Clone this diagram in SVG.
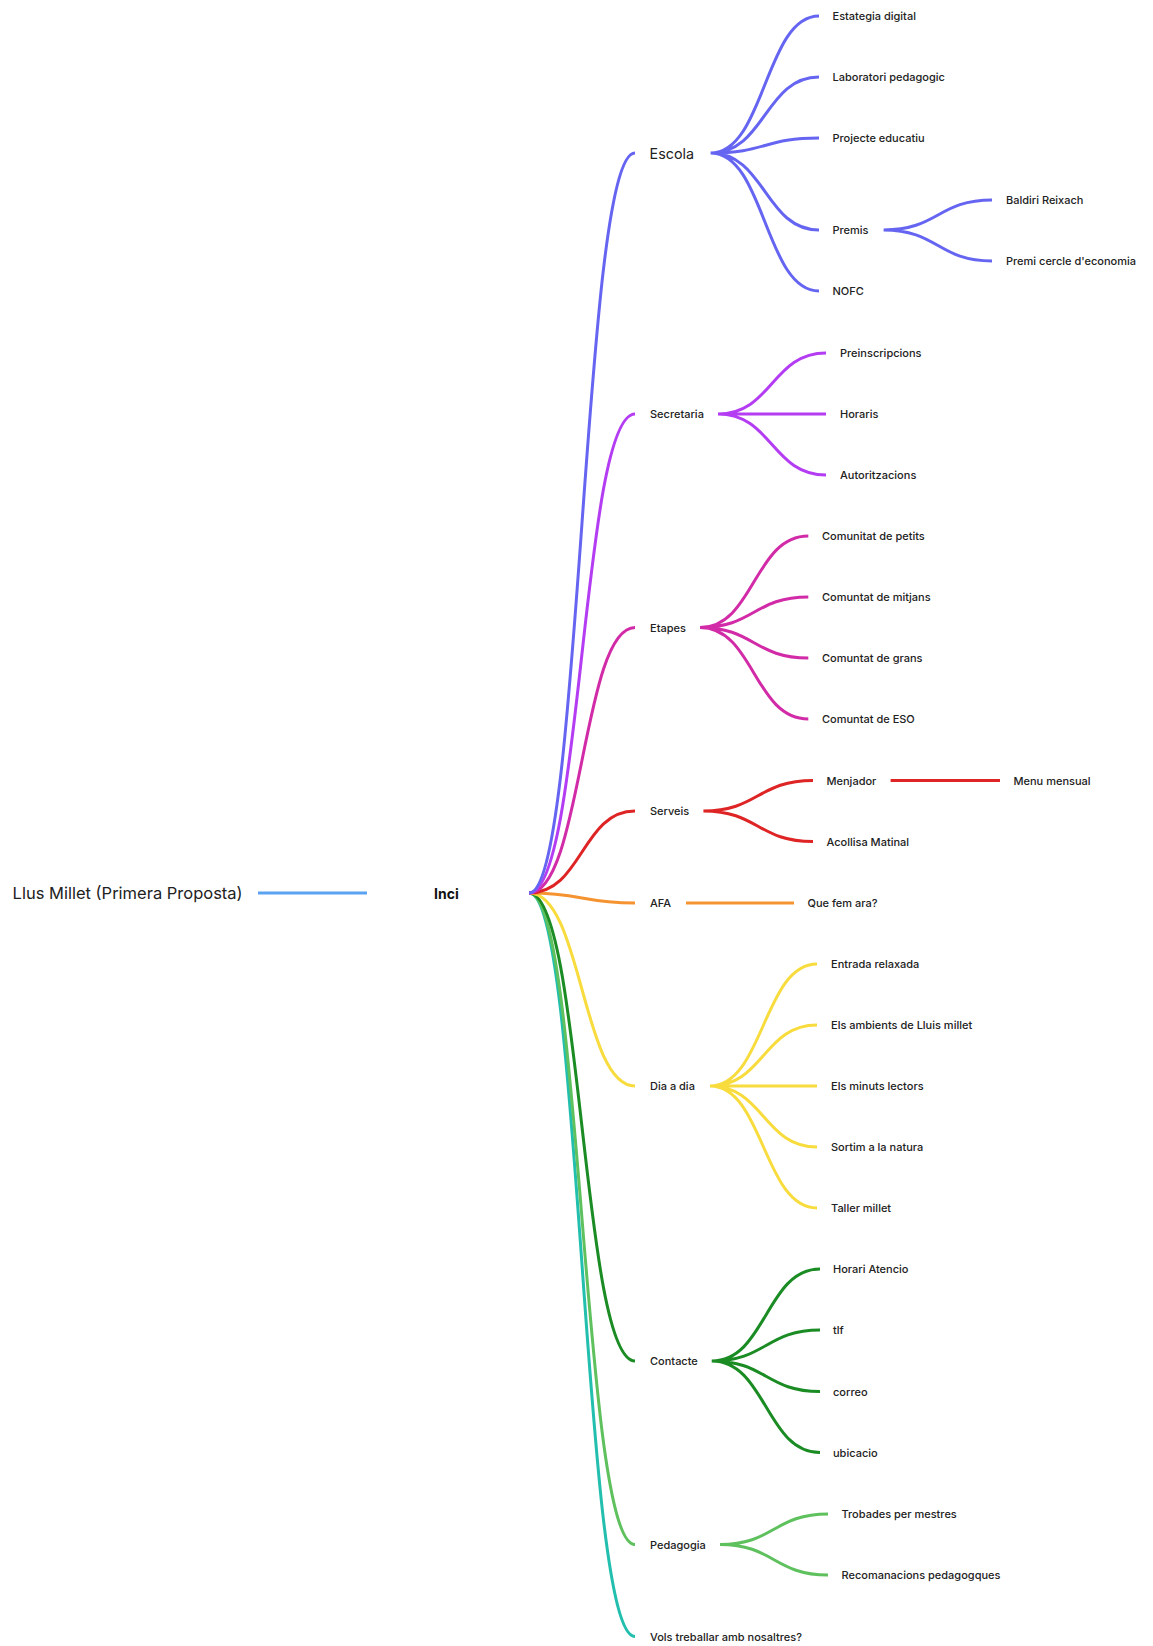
<svg xmlns="http://www.w3.org/2000/svg" width="1153" height="1646" viewBox="0 0 1153 1646">
<style>
text{font-family:Inter,"Liberation Sans",Arial,sans-serif;font-size:11px;font-weight:500;fill:#222;dominant-baseline:central}
.big{font-size:14.3px;font-weight:400}
.root{font-size:16.5px;font-weight:400}
.main{font-size:14px;font-weight:700;fill:#111}
path{fill:none;stroke-width:3}
.c-blue{stroke:#5AA2F2}
.c-esc{stroke:#6565F2}
.c-sec{stroke:#B43CF2}
.c-eta{stroke:#D22BA8}
.c-ser{stroke:#DE2424}
.c-afa{stroke:#F59331}
.c-dia{stroke:#F8DC3E}
.c-con{stroke:#1B8C24}
.c-ped{stroke:#5EC15E}
.c-vol{stroke:#22BFAE}
</style>
<rect width="1153" height="1646" fill="#fff"/>
<g id="connectors">
<path class="c-blue" d="M258 893H367"/>
<path class="c-vol" d="M529 893C582 893 582 1636.5 635 1636.5"/>
<path class="c-ped" d="M529 893C582 893 582 1544.5 635 1544.5"/>
<path class="c-con" d="M529 893C582 893 582 1361 635 1361"/>
<path class="c-dia" d="M529 893C582 893 582 1086 635 1086"/>
<path class="c-afa" d="M529 893C582 893 582 903 635 903"/>
<path class="c-ser" d="M529 893C582 893 582 811 635 811"/>
<path class="c-eta" d="M529 893C582 893 582 627.5 635 627.5"/>
<path class="c-sec" d="M529 893C582 893 582 414 635 414"/>
<path class="c-esc" d="M529 893C582 893 582 153 635 153"/>
<path class="c-esc" d="M710.6 153C765 153 765 16 819 16M710.6 153C765 153 765 77 819 77M710.6 153C765 153 765 138 819 138M710.6 153C765 153 765 230 819 230M710.6 153C765 153 765 291 819 291"/>
<path class="c-esc" d="M883.6 230C938 230 938 200 992 200M883.6 230C938 230 938 261 992 261"/>
<path class="c-sec" d="M718 414C772 414 772 353 826 353M718 414H826M718 414C772 414 772 475 826 475"/>
<path class="c-eta" d="M700 627.5C754 627.5 754 536 808.3 536M700 627.5C754 627.5 754 597 808.3 597M700 627.5C754 627.5 754 658 808.3 658M700 627.5C754 627.5 754 719 808.3 719"/>
<path class="c-ser" d="M703.4 811C758 811 758 780.5 813 780.5M703.4 811C758 811 758 841.5 813 841.5M890.6 780.5H1000"/>
<path class="c-afa" d="M686 903H794"/>
<path class="c-dia" d="M710 1086C763.5 1086 763.5 964 817 964M710 1086C763.5 1086 763.5 1025 817 1025M710 1086H817M710 1086C763.5 1086 763.5 1147 817 1147M710 1086C763.5 1086 763.5 1208 817 1208"/>
<path class="c-con" d="M711.7 1361C766 1361 766 1269 820 1269M711.7 1361C766 1361 766 1330 820 1330M711.7 1361C766 1361 766 1391.5 820 1391.5M711.7 1361C766 1361 766 1452.5 820 1452.5"/>
<path class="c-ped" d="M720 1544.5C774 1544.5 774 1514 828 1514M720 1544.5C774 1544.5 774 1575 828 1575"/>
</g>
<g id="n-root"><text class="root" x="12.6" y="893">Llus Millet (Primera Proposta)</text></g>
<g id="n-inci"><text class="main" x="434" y="893">Inci</text></g>
<g id="n-escola"><text class="big" x="649.6" y="153">Escola</text></g>
<g id="n-estategia"><text x="832.5" y="16">Estategia digital</text></g>
<g id="n-laboratori"><text x="832.5" y="77">Laboratori pedagogic</text></g>
<g id="n-projecte"><text x="832.5" y="138">Projecte educatiu</text></g>
<g id="n-premis"><text x="832.5" y="230">Premis</text></g>
<g id="n-baldiri"><text x="1006" y="200">Baldiri Reixach</text></g>
<g id="n-premi-cercle"><text x="1006" y="261">Premi cercle d'economia</text></g>
<g id="n-nofc"><text x="832.5" y="291">NOFC</text></g>
<g id="n-secretaria"><text x="650" y="414">Secretaria</text></g>
<g id="n-preinscripcions"><text x="840" y="353">Preinscripcions</text></g>
<g id="n-horaris"><text x="840" y="414">Horaris</text></g>
<g id="n-autoritzacions"><text x="840" y="475">Autoritzacions</text></g>
<g id="n-etapes"><text x="650" y="627.5">Etapes</text></g>
<g id="n-petits"><text x="822" y="536">Comunitat de petits</text></g>
<g id="n-mitjans"><text x="822" y="597">Comuntat de mitjans</text></g>
<g id="n-grans"><text x="822" y="658">Comuntat de grans</text></g>
<g id="n-eso"><text x="822" y="719">Comuntat de ESO</text></g>
<g id="n-serveis"><text x="650" y="811">Serveis</text></g>
<g id="n-menjador"><text x="826.5" y="780.5">Menjador</text></g>
<g id="n-menu"><text x="1013.5" y="780.5">Menu mensual</text></g>
<g id="n-acollisa"><text x="826.5" y="841.5">Acollisa Matinal</text></g>
<g id="n-afa"><text x="650" y="903">AFA</text></g>
<g id="n-quefem"><text x="807.5" y="903">Que fem ara?</text></g>
<g id="n-dia"><text x="650" y="1086">Dia a dia</text></g>
<g id="n-entrada"><text x="831" y="964">Entrada relaxada</text></g>
<g id="n-ambients"><text x="831" y="1025">Els ambients de Lluis millet</text></g>
<g id="n-minuts"><text x="831" y="1086">Els minuts lectors</text></g>
<g id="n-sortim"><text x="831" y="1147">Sortim a la natura</text></g>
<g id="n-taller"><text x="831" y="1208">Taller millet</text></g>
<g id="n-contacte"><text x="650" y="1361">Contacte</text></g>
<g id="n-horari"><text x="833" y="1269">Horari Atencio</text></g>
<g id="n-tlf"><text x="833" y="1330">tlf</text></g>
<g id="n-correo"><text x="833" y="1391.5">correo</text></g>
<g id="n-ubicacio"><text x="833" y="1452.5">ubicacio</text></g>
<g id="n-pedagogia"><text x="650" y="1544.5">Pedagogia</text></g>
<g id="n-trobades"><text x="841.5" y="1514">Trobades per mestres</text></g>
<g id="n-recomanacions"><text x="841.5" y="1575">Recomanacions pedagogques</text></g>
<g id="n-vols"><text x="650" y="1636.5">Vols treballar amb nosaltres?</text></g>
</svg>
